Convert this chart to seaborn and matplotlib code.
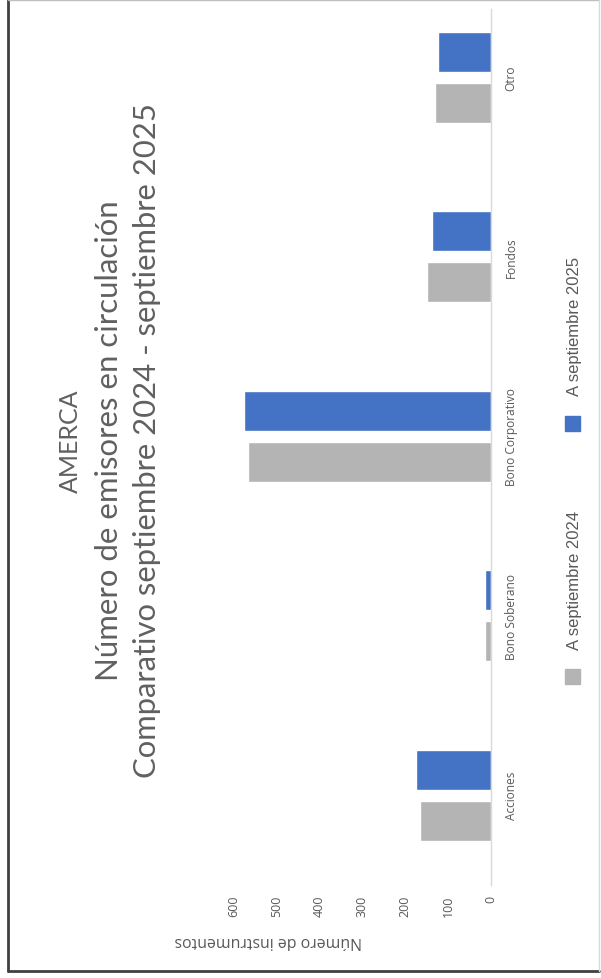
import matplotlib
matplotlib.use("Agg")
import matplotlib.pyplot as plt
import numpy as np
import pandas as pd
import seaborn as sns
from matplotlib.lines import Line2D
from matplotlib.patches import Rectangle

categorias = ["Acciones", "Bono Soberano", "Bono Corporativo", "Fondos", "Otro"]
sep_2024 = [166, 14, 567, 150, 130]
sep_2025 = [175, 13, 576, 138, 123]
periodos = ["A septiembre 2024", "A septiembre 2025"]
ticks_valor = [0, 100, 200, 300, 400, 500, 600]
colores = ["#b4b4b4", "#4472c4"]

titulo = ["AMERCA",
          "Número de emisores en circulación",
          "Comparativo septiembre 2024 - septiembre 2025"]
etiqueta_eje = "Número de instrumentos"

sns.set_style("white")
plt.rcParams["font.family"] = ["Open Sans", "DejaVu Sans"]

df = pd.DataFrame({
    "categoria": categorias * 2,
    "valor": sep_2024 + sep_2025,
    "periodo": [periodos[0]] * len(categorias) + [periodos[1]] * len(categorias),
})

W, H = 601, 979
fig = plt.figure(figsize=(W / 100, H / 100), dpi=100)
ax = fig.add_axes([234 / W, 1 - 886 / H, (490.7 - 234) / W, (886 - 10) / H])

sns.barplot(data=df, y="categoria", x="valor", hue="periodo", orient="h",
            palette=colores, hue_order=periodos, order=categorias,
            width=0.57, gap=0.22, saturation=1, legend=False, ax=ax)

ax.set_xlim(600, 0)
ax.set_ylim(-0.5, 4.38)
ax.set_xticks(ticks_valor)
ax.set_xticklabels([str(t) for t in ticks_valor])
ax.set_xlabel("")
ax.set_ylabel("")
ax.yaxis.tick_right()

for s in ["top", "left", "bottom"]:
    ax.spines[s].set_visible(False)
ax.spines["right"].set_color("#d9d9d9")
ax.spines["right"].set_linewidth(1)

ax.tick_params(axis="x", length=0, pad=7, labelsize=9, colors="#595959", labelrotation=90)
ax.tick_params(axis="y", length=0, pad=10, labelsize=8.6, colors="#595959", labelrotation=90)
for lab in ax.get_yticklabels():
    lab.set_va("center")
    lab.set_ha("left")

# value axis title (upside down, as in the reference)
fig.text(268 / W, 1 - 941 / H, etiqueta_eje, rotation=180, ha="center", va="center",
         fontsize=11.4, color="#595959")

# title, three rotated lines
tfont = ["Lato", "DejaVu Sans"]
for xc, txt, fs in zip([70, 109, 147], titulo, [18, 22.4, 22.3]):
    fig.text(xc / W, 1 - 441 / H, txt, rotation=90, ha="center", va="center",
             fontsize=fs, color="#606060", family=tfont)

# legend, drawn by hand because the text is rotated
for sq_top, txt_c, lab, col in [(670, 580, periodos[0], colores[0]),
                                (417, 326, periodos[1], colores[1])]:
    fig.patches.append(Rectangle((565 / W, 1 - (sq_top + 15) / H), 15 / W, 15 / H,
                                 transform=fig.transFigure, color=col, figure=fig))
    fig.text(574 / W, 1 - txt_c / H, lab, rotation=90, ha="center", va="center",
             fontsize=12, color="#595959", family=["Liberation Sans", "DejaVu Sans"])

# chart frame
fig.add_artist(Line2D([8 / W, 8 / W], [1 - 1 / H, 1 - 972 / H], color="#404040", lw=2))
fig.add_artist(Line2D([8 / W, 599 / W], [1 - 972 / H, 1 - 972 / H], color="#404040", lw=2))
fig.add_artist(Line2D([8 / W, 599 / W], [1 - 1 / H, 1 - 1 / H], color="#bfbfbf", lw=1))
fig.add_artist(Line2D([599 / W, 599 / W], [1 - 1 / H, 1 - 972 / H], color="#d9d9d9", lw=1))

fig.savefig("out.png", dpi=100)
